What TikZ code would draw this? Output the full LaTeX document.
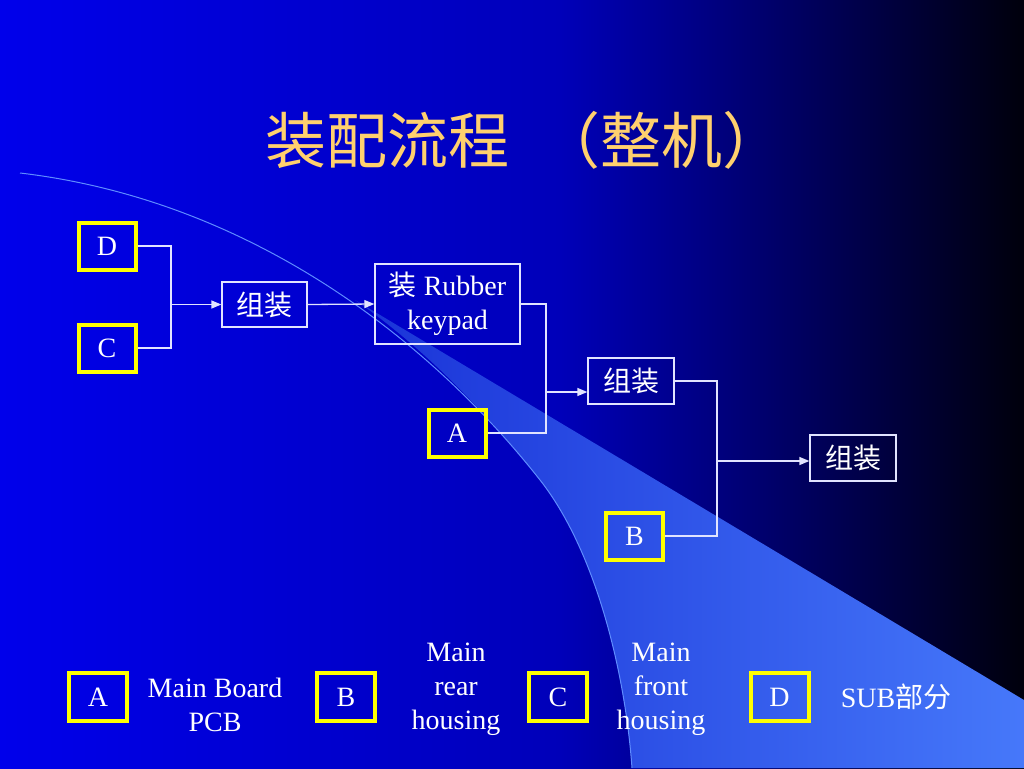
\documentclass[tikz,border=0pt]{standalone}
\usepackage{fontspec}
\setmainfont{Liberation Serif}
\newfontfamily\cjk{Noto Sans CJK SC}
\usetikzlibrary{arrows.meta}
\definecolor{bgA}{RGB}{0,0,235}
\definecolor{bgB}{RGB}{0,0,185}
\definecolor{bgC}{RGB}{0,0,12}
\definecolor{hiA}{RGB}{25,50,215}
\definecolor{hiB}{RGB}{70,120,250}
\definecolor{curveC}{RGB}{95,140,255}
\definecolor{titleC}{RGB}{255,208,110}
\definecolor{lineC}{RGB}{225,228,255}
\definecolor{boxY}{RGB}{255,255,0}
\begin{document}
\begin{tikzpicture}[x=1pt,y=-1pt,
  lbl/.style={text=white, inner sep=0pt, font=\fontsize{28}{34}\selectfont},
  ybox/.style={lbl, draw=boxY, line width=4pt, minimum width=57pt, minimum height=47pt},
  wbox/.style={lbl, draw=lineC, line width=1.3pt},
  txt/.style={lbl, align=center},
  conn/.style={draw=lineC, line width=1.3pt},
  arr/.style={conn, -{Triangle[length=10pt,width=8pt]}}]
\useasboundingbox (0,0) rectangle (1024,768);
% background
\shade[left color=bgA, right color=bgB] (0,0) rectangle (561,768);
\shade[left color=bgB, right color=bgC] (560,0) rectangle (1024,768);
% light wedge
\begin{scope}
\clip (355,300) .. controls (420,345) and (485,410) .. (540,480)
  .. controls (595,550) and (625,670) .. (632,768) -- (1024,768) -- (1024,700) -- cycle;
\shade[left color=hiA, right color=hiB] (350,290) rectangle (1024,768);
\end{scope}
\draw[curveC, line width=1pt] (20,173) .. controls (250,200) and (430,340) .. (540,480)
  .. controls (595,550) and (625,670) .. (632,768);
% title
\node[text=titleC, anchor=west, inner sep=0pt] (title) at (265,140) {\cjk\fontsize{61}{61}\selectfont 装配流程\hspace{0.5em}（整机）};
% flow nodes
\node[ybox] (D) at (107,246) {D};
\node[ybox] (C) at (107,348) {C};
\node[wbox, minimum width=85pt, minimum height=45pt] (g1) at (264.5,304.5) {\cjk 组装};
\node[wbox, minimum width=145pt, minimum height=80pt, align=center] (R) at (447.5,304) {{\cjk 装} Rubber\\keypad};
\node[ybox] (A) at (457,433) {A};
\node[wbox, minimum width=86pt, minimum height=46pt] (g2) at (631,381) {\cjk 组装};
\node[ybox] (B) at (634.5,536) {B};
\node[wbox, minimum width=86pt, minimum height=46pt] (g3) at (853,458) {\cjk 组装};
% junctions
\coordinate (j1) at (171,304.5);
\coordinate (j2) at (546,392);
\coordinate (j3) at (717,461);
% connectors
\draw[conn] (D.east) -| (j1);
\draw[conn] (C.east) -| (j1);
\draw[arr] (j1) -- (g1.west);
\draw[arr] (g1.east) -- (R.west);
\draw[conn] (R.east) -| (j2);
\draw[conn] (A.east) -| (j2);
\draw[arr] (j2) -- (j2 -| g2.west);
\draw[conn] (g2.east) -| (j3);
\draw[conn] (B.east) -| (j3);
\draw[arr] (j3) -- (j3 -| g3.west);
% legend
\node[ybox, minimum width=58pt, minimum height=48pt] (LA) at (98,697) {A};
\node[txt] (tA) at (215,705) {Main Board\\PCB};
\node[ybox, minimum width=58pt, minimum height=48pt] (LB) at (346,697) {B};
\node[txt] (tB) at (456,689) {Main\\rear\\housing};
\node[ybox, minimum width=58pt, minimum height=48pt] (LC) at (558,697) {C};
\node[txt] (tC) at (661,689) {Main\\front\\housing};
\node[ybox, minimum width=58pt, minimum height=48pt] (LD) at (779.5,697) {D};
\node[txt] (tD) at (896,697) {SUB{\cjk 部分}};
\end{tikzpicture}
\end{document}
